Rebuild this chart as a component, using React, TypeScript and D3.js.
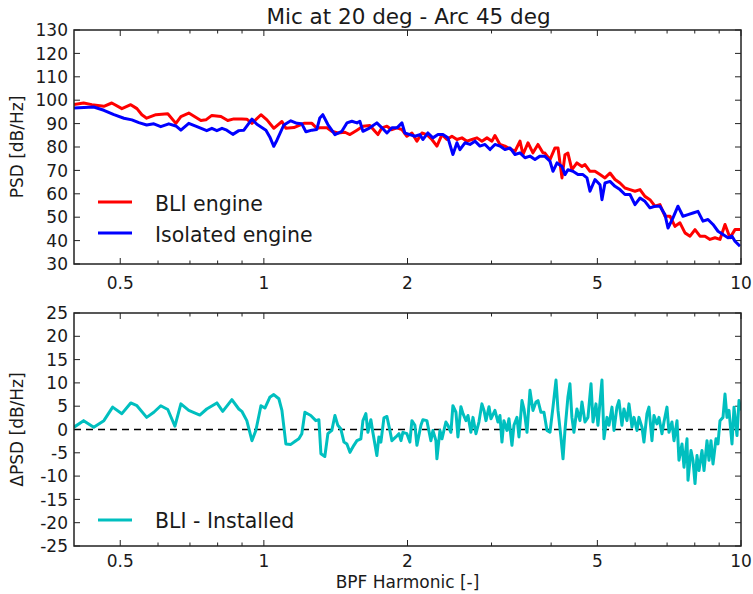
import React from "react";
import * as d3 from "d3";

// ---------- data ----------
const bliFreq = [0.400,0.419,0.436,0.462,0.480,0.504,0.526,0.542,0.555,0.568,0.594,0.629,0.654,0.670,0.696,0.738,0.756,0.778,0.813,0.840,0.865,0.899,0.921,0.944,0.986,1.015,1.049,1.091,1.112,1.156,1.213,1.261,1.291,
1.310,1.356,1.388,1.429,1.479,1.515,1.567,1.613,1.668,1.709,1.734,1.768,1.811,1.855,1.901,1.947,1.994,2.043,2.093,2.144,2.196,2.250,2.305,2.362,2.419,2.478,2.539,2.601,2.665,2.730,2.797,2.864,2.935,3.006,3.050,3.125,3.201,3.280,3.360,3.442,3.492,3.577,3.664,3.754,3.845,
3.882,3.978,4.075,4.135,4.215,4.276,4.337,4.422,4.530,4.642,4.710,4.825,4.943,5.064,5.187,5.314,5.444,5.576,5.712,5.852,5.995,6.142,6.290,6.444,6.602,6.763,6.929,7.099,7.272,7.449,7.632,7.819,8.010,8.204,8.405,8.610,8.820,9.036,9.257,9.483,9.714,9.952];
const bliPsd = [98.1,98.8,98.1,97.4,98.8,96.4,98.1,96.4,93.8,92.3,93.8,94.2,90.1,93.0,94.5,91.3,91.6,93.5,93.0,91.3,92.0,92.0,91.9,90.1,93.8,91.6,88.0,90.9,88.0,88.3,90.1,90.1,88.0,
88.2,88.2,86.7,86.0,86.3,85.3,87.2,88.9,89.2,86.7,85.3,88.2,88.9,87.4,88.2,87.4,84.6,86.0,82.5,86.0,85.3,83.2,80.4,85.3,83.2,84.6,83.2,83.9,82.5,83.2,83.9,82.5,83.9,82.5,84.9,81.1,80.4,79.2,78.2,82.5,76.8,81.8,77.5,81.1,77.5,
77.4,74.6,79.6,79.6,66.8,76.7,77.4,70.3,73.2,71.7,72.5,69.6,69.6,68.2,66.8,68.9,66.1,64.6,62.5,61.8,61.1,61.8,58.9,57.5,54.7,55.4,50.4,50.4,46.1,47.6,43.3,41.9,44.7,41.9,41.9,40.5,41.2,40.5,46.9,41.2,44.7,44.7];

const isoFreq = [0.400,0.440,0.462,0.485,0.509,0.529,0.547,0.568,0.588,0.608,0.632,0.654,0.670,0.696,0.724,0.759,0.778,0.797,0.817,0.836,0.861,0.886,0.908,0.944,0.967,1.010,1.029,1.049,1.065,1.101,1.139,1.173,1.201,1.225,1.261,1.291,
1.310,1.329,1.362,1.409,1.457,1.493,1.529,1.567,1.589,1.613,1.668,1.725,1.768,1.811,1.855,1.901,1.947,1.975,2.023,2.073,2.123,2.154,2.207,2.261,2.317,2.373,2.431,2.490,2.539,2.576,2.639,2.704,2.770,2.837,2.907,2.978,3.050,3.125,3.201,3.280,3.360,3.442,3.526,3.612,3.700,3.790,
3.882,3.978,4.036,4.115,4.215,4.276,4.337,4.444,4.553,4.664,4.755,4.825,4.943,5.064,5.112,5.187,5.314,5.444,5.576,5.712,5.852,5.995,6.142,6.290,6.444,6.602,6.763,6.929,7.031,7.202,7.377,7.557,7.743,7.932,8.125,8.324,8.527,8.736,8.949,9.168,9.391,9.575,9.714,9.952];
const isoPsd = [96.7,97.1,95.7,93.8,92.3,91.6,90.4,89.4,89.9,88.7,89.9,89.0,87.2,90.1,88.7,87.0,88.0,87.0,88.0,87.2,85.4,87.0,87.2,91.9,89.7,87.2,84.3,80.3,82.9,89.4,91.2,90.1,89.9,86.5,87.2,87.5,
92.4,93.8,89.6,85.3,86.7,90.3,91.0,90.3,91.0,86.7,88.2,90.3,88.2,86.0,88.2,88.2,90.3,86.0,85.3,84.6,85.3,83.2,86.0,83.9,85.3,85.3,83.9,76.8,81.8,78.9,81.8,81.1,82.5,80.4,81.1,78.9,81.1,80.4,78.9,79.6,76.8,77.5,75.4,76.1,74.7,76.1,
76.0,73.9,69.6,73.2,71.7,68.2,70.3,69.6,68.2,68.2,66.8,61.1,66.1,63.9,57.5,64.6,65.3,63.2,61.8,59.7,59.7,55.4,58.2,56.8,54.0,54.7,54.7,51.1,45.4,49.7,54.7,50.4,51.1,51.8,52.5,48.3,49.0,46.9,44.0,42.6,41.2,41.9,39.7,37.6];

const diffFreq = [0.400,0.419,0.440,0.462,0.482,0.504,0.526,0.542,0.568,0.588,0.608,0.629,0.651,0.670,0.696,0.734,0.759,0.797,0.820,0.857,0.886,0.899,0.921,0.944,0.962,0.986,1.005,1.029,1.049,1.075,1.091,1.112,1.139,1.167,1.184,1.201,1.219,1.254,1.285,1.304,1.317,1.342,1.362,1.388,1.409,1.429,1.450,1.472,1.493,1.515,1.544,1.567,1.597,1.613,1.636,1.652,1.676,1.692,1.725,1.742,1.759,1.785,1.811,1.837,1.855,1.891,1.919,1.938,1.956,1.994,2.023,2.043,2.073,2.093,2.134,2.154,2.196,2.239,2.261,2.294,2.305,2.339,2.362,2.407,2.431,2.466,2.490,2.527,2.551,2.588,2.614,2.652,2.678,2.716,2.743,2.783,2.823,2.864,2.893,2.921,2.964,2.992,
3.050,3.095,3.125,3.155,3.185,3.232,3.263,3.311,3.343,3.392,3.425,3.475,3.509,3.560,3.612,3.664,3.718,3.754,3.808,3.864,3.921,3.978,4.036,4.095,4.135,4.195,4.236,4.276,4.337,4.380,4.422,4.465,4.530,4.597,4.642,4.710,4.778,4.849,4.896,4.966,5.014,5.112,5.162,5.237,5.288,5.365,5.417,5.495,5.549,5.629,5.684,5.768,5.824,5.908,5.966,6.053,6.111,6.200,6.260,6.352,6.413,6.507,6.570,6.666,6.730,6.829,6.895,6.996,7.064,7.167,7.237,7.343,7.413,7.522,7.595,7.706,7.743,7.856,7.932,8.010,8.087,8.165,8.284,8.365,8.487,8.569,8.652,8.736,8.863,8.949,9.036,9.168,9.257,9.346,9.437,9.575,9.668,9.808,9.904,10.0];
const diffVal = [0.5,1.9,0.5,1.9,4.8,3.4,5.7,5.1,2.6,3.7,5.1,4.3,0.7,5.5,4.1,3.1,4.4,5.7,3.9,6.4,4.4,3.9,1.9,-2.4,-0.2,5.1,4.6,6.9,7.5,6.6,4.1,-3.1,-3.2,-2.4,-2.0,-0.9,3.7,3.0,1.9,2.1,-5.2,-5.8,-0.9,-0.2,3.0,0.9,0.1,-2.7,-3.1,-4.9,-3.4,-2.4,-2.0,1.9,3.4,-0.6,2.1,-0.6,-5.6,-1.6,-2.7,2.5,2.8,-0.2,-2.4,-1.6,-0.9,-2.4,-0.6,-0.9,-2.7,1.9,0.9,-3.4,0.9,2.1,1.9,-2.4,-0.2,-2.4,-6.3,-0.2,-2.0,1.6,0.9,-0.6,5.1,3.7,-1.6,4.9,3.4,1.9,3.0,-0.6,2.6,-0.9,1.6,5.5,4.1,1.9,4.9,2.3,
4.1,1.6,3.0,-2.7,1.9,-0.2,2.3,-3.4,0.9,2.6,-1.6,6.2,4.4,-0.6,8.4,4.1,5.9,6.2,3.7,3.7,-0.2,-0.6,4.8,10.6,4.1,-1.8,-6.3,-0.2,6.9,9.8,2.6,-0.6,4.4,1.9,5.9,1.6,2.6,9.8,1.6,5.5,0.9,10.6,-2.0,2.6,0.9,4.8,-0.2,4.8,6.2,0.9,4.4,1.9,5.5,0.5,2.6,-0.2,2.6,0.5,-2.7,3.4,4.8,-2.4,3.0,1.2,2.6,-0.9,1.6,4.8,-0.6,1.6,-2.4,1.9,-6.6,-3.1,-8.1,-2.0,-10.9,-4.5,-6.6,-11.6,-5.6,-8.8,-4.5,-8.8,-2.4,-6.6,-2.4,-7.4,-2.0,-3.1,1.9,2.6,7.6,2.6,4.1,-3.1,4.8,-1.3,6.2,4.1];

const xTickValues = [0.5, 1, 2, 5, 10];
const xTickLabels = ["0.5", "1", "2", "5", "10"];
const xMinorValues = [0.6, 0.7, 0.8, 0.9, 3, 4, 6, 7, 8, 9];
const yTopTicks = [30, 40, 50, 60, 70, 80, 90, 100, 110, 120, 130];
const yBotTicks = [-25, -20, -15, -10, -5, 0, 5, 10, 15, 20, 25];

const titleText = "Mic at 20 deg - Arc 45 deg";
const seriesNames = ["BLI engine", "Isolated engine", "BLI - Installed"];

// ---------- layout ----------
const W = 753, H = 594;
const L = 74, R = 741;
const topY0 = 30, topY1 = 264;
const botY0 = 313, botY1 = 546;
const FONT = "DejaVu Sans, sans-serif";
const TXT = "#1a1a1a";

const x = d3.scaleLog().domain([0.4, 10]).range([L, R]);
const yTop = d3.scaleLinear().domain([30, 130]).range([topY1, topY0]);
const yBot = d3.scaleLinear().domain([-25, 25]).range([botY1, botY0]);

function Axes({ y0, y1, yScale, yTicks, clipId, labelOffset }: any) {
  const MAJ = 6, MIN = 3.5;
  return (
    <g>
      {xTickValues.map((v, i) => (
        <g key={"xt" + i}>
          <line x1={x(v)} x2={x(v)} y1={y1} y2={y1 - MAJ} stroke="#222" strokeWidth={1} />
          <line x1={x(v)} x2={x(v)} y1={y0} y2={y0 + MAJ} stroke="#222" strokeWidth={1} />
          <text x={x(v)} y={y1 + labelOffset} textAnchor="middle" fontFamily={FONT} fontSize={17} fill={TXT}>
            {xTickLabels[i]}
          </text>
        </g>
      ))}
      {xMinorValues.map((v, i) => (
        <g key={"xm" + i}>
          <line x1={x(v)} x2={x(v)} y1={y1} y2={y1 - MIN} stroke="#222" strokeWidth={1} />
          <line x1={x(v)} x2={x(v)} y1={y0} y2={y0 + MIN} stroke="#222" strokeWidth={1} />
        </g>
      ))}
      {yTicks.map((v: number, i: number) => (
        <g key={"yt" + i}>
          <line x1={L} x2={L + MAJ} y1={yScale(v)} y2={yScale(v)} stroke="#222" strokeWidth={1} />
          <line x1={R} x2={R - MAJ} y1={yScale(v)} y2={yScale(v)} stroke="#222" strokeWidth={1} />
          <text x={L - 6} y={yScale(v)} dy="0.36em" textAnchor="end" fontFamily={FONT} fontSize={17} fill={TXT}>
            {String(v)}
          </text>
        </g>
      ))}
      <clipPath id={clipId}>
        <rect x={L} y={y0} width={R - L} height={y1 - y0} />
      </clipPath>
    </g>
  );
}

export default function App() {
  const mk = (fs: number[], vs: number[], ys: any) =>
    d3.line<number>().x((_, i) => x(fs[i])).y((d) => ys(d))(vs) || "";

  const bliPath = mk(bliFreq, bliPsd, yTop);
  const isoPath = mk(isoFreq, isoPsd, yTop);
  const diffPath = mk(diffFreq, diffVal, yBot);

  return (
    <svg width={W} height={H} style={{ position: "absolute", left: 0, top: 0, background: "#fff" }}>
      <rect x={0} y={0} width={W} height={H} fill="#fff" />
      <text x={(L + R) / 2 + 1} y={24} textAnchor="middle" fontFamily={FONT} fontSize={21.5} fill={TXT}>
        {titleText}
      </text>

      {/* top panel */}
      <Axes y0={topY0} y1={topY1} yScale={yTop} yTicks={yTopTicks} clipId="clipTop" labelOffset={25} />
      <g clipPath="url(#clipTop)">
        <path d={bliPath} fill="none" stroke="#ff0000" strokeWidth={3} strokeLinejoin="round" />
        <path d={isoPath} fill="none" stroke="#0000ff" strokeWidth={3} strokeLinejoin="round" />
      </g>
      <rect x={L} y={topY0} width={R - L} height={topY1 - topY0} fill="none" stroke="#222" strokeWidth={1.5} />
      <text transform={`translate(23,${(topY0 + topY1) / 2}) rotate(-90)`} textAnchor="middle" fontFamily={FONT} fontSize={17} fill={TXT}>
        PSD [dB/Hz]
      </text>
      <line x1={98} x2={132} y1={202} y2={202} stroke="#ff0000" strokeWidth={3} />
      <text x={155} y={211} fontFamily={FONT} fontSize={20.5} fill={TXT}>{seriesNames[0]}</text>
      <line x1={98} x2={132} y1={233} y2={233} stroke="#0000ff" strokeWidth={3} />
      <text x={155} y={242} fontFamily={FONT} fontSize={20.5} fill={TXT}>{seriesNames[1]}</text>

      {/* bottom panel */}
      <Axes y0={botY0} y1={botY1} yScale={yBot} yTicks={yBotTicks} clipId="clipBot" labelOffset={21} />
      <line x1={L} x2={R} y1={yBot(0)} y2={yBot(0)} stroke="#000" strokeWidth={1.5} strokeDasharray="7,5" />
      <g clipPath="url(#clipBot)">
        <path d={diffPath} fill="none" stroke="#00bfbf" strokeWidth={3} strokeLinejoin="round" />
      </g>
      <rect x={L} y={botY0} width={R - L} height={botY1 - botY0} fill="none" stroke="#222" strokeWidth={1.5} />
      <text transform={`translate(23,${(botY0 + botY1) / 2}) rotate(-90)`} textAnchor="middle" fontFamily={FONT} fontSize={17} fill={TXT}>
        ΔPSD [dB/Hz]
      </text>
      <line x1={98} x2={132} y1={520} y2={520} stroke="#00bfbf" strokeWidth={3} />
      <text x={155} y={528} fontFamily={FONT} fontSize={20.5} fill={TXT}>{seriesNames[2]}</text>

      <text x={(L + R) / 2} y={588} textAnchor="middle" fontFamily={FONT} fontSize={17} fill={TXT}>
        BPF Harmonic [-]
      </text>
    </svg>
  );
}
